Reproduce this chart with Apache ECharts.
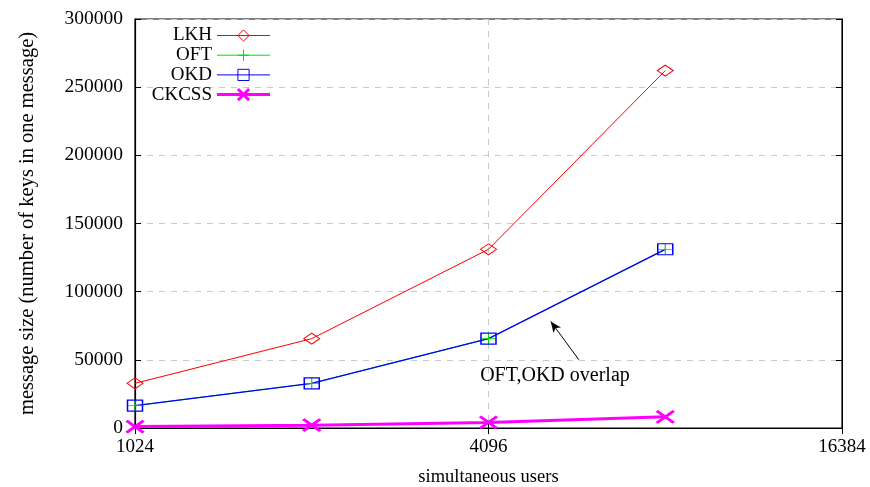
<!DOCTYPE html>
<html><head><meta charset="utf-8">
<script src="https://cdn.jsdelivr.net/npm/echarts@6/dist/echarts.min.js"></script>
<style>html,body{margin:0;padding:0;background:#fff}#c{width:870px;height:487px}</style>
</head><body><div id="c"></div>
<script>
const users = [1024, 2048, 4096, 8192];
const lkh = [32768, 65536, 131072, 262144];
const oft = [16384, 32768, 65536, 131072];
const okd = [16384, 32768, 65536, 131072];
const ckcss = [1024, 2048, 4096, 8192];
const yTicks = [0, 50000, 100000, 150000, 200000, 250000, 300000];
const xTicks = [1024, 4096, 16384];
const annotationText = 'OFT,OKD overlap';
const arrowFrom = [5839, 50000];
const arrowTo = [5228, 78160];
const textAt = [5316, 38235];

const F = '"Liberation Serif", "DejaVu Serif", serif';
const pair = a => users.map((u, i) => [u, a[i]]);
const plusPath = 'path://M0,5L10,5M5,0L5,10';
const crossPath = 'path://M0,0L10,10M10,0L0,10';
const clear = 'rgba(255,255,255,0)';

const chart = echarts.init(document.getElementById('c'));
chart.setOption({
  animation: false,
  backgroundColor: '#fff',
  grid: { left: 135, right: 28, top: 19, bottom: 59, show: true, borderColor: '#000', borderWidth: 1.2,
          outerBoundsMode: 'none', containLabel: false },
  legend: {
    orient: 'vertical', left: 145, top: 21, align: 'right', itemGap: 0.7,
    itemWidth: 53, itemHeight: 14,
    textStyle: { fontFamily: F, fontSize: 19, color: '#000', width: 62, align: 'right', lineHeight: 18 },
    data: [
      { name: 'LKH', itemStyle: { color: clear, borderColor: '#ff0000', borderWidth: 1 }, lineStyle: { width: 1, color: '#ff0000' } },
      { name: 'OFT', itemStyle: { color: clear, borderColor: '#00dd00', borderWidth: 1 }, lineStyle: { width: 1, color: '#00dd00' } },
      { name: 'OKD', itemStyle: { color: clear, borderColor: '#0000ff', borderWidth: 1 }, lineStyle: { width: 1, color: '#0000ff' } },
      { name: 'CKCSS', itemStyle: { color: clear, borderColor: '#ff00ff', borderWidth: 3 }, lineStyle: { width: 3, color: '#ff00ff' } }
    ]
  },
  xAxis: [{
    type: 'log', logBase: 4, min: 1024, max: 16384,
    name: 'simultaneous users', nameLocation: 'middle', nameGap: 40,
    nameTextStyle: { fontFamily: F, fontSize: 18.5, color: '#000' },
    axisLine: { lineStyle: { color: '#000', width: 1.2 } },
    axisTick: { inside: true, length: 6, lineStyle: { color: '#000' } },
    axisLabel: { fontFamily: F, fontSize: 19, color: '#000', margin: 10,
      formatter: v => xTicks.includes(Math.round(v)) ? String(Math.round(v)) : '' },
    splitLine: { show: true, lineStyle: { color: '#c8c8c8', type: [6, 6], width: 1 } },
    minorTick: { show: false }
  }, {
    type: 'log', logBase: 4, min: 1024, max: 16384, position: 'top',
    axisLine: { lineStyle: { color: '#000' } },
    axisTick: { inside: true, length: 6, lineStyle: { color: '#000' } },
    axisLabel: { show: false }, splitLine: { show: false }
  }],
  yAxis: [{
    type: 'value', min: yTicks[0], max: yTicks[yTicks.length - 1], interval: 50000,
    name: 'message size (number of keys in one message)', nameLocation: 'middle', nameGap: 97,
    nameTextStyle: { fontFamily: F, fontSize: 20.5, color: '#000' },
    axisLine: { show: true, lineStyle: { color: '#000', width: 1.2 } },
    axisTick: { show: true, inside: true, length: 6, lineStyle: { color: '#000' } },
    axisLabel: { fontFamily: F, fontSize: 19.5, color: '#000', margin: 12, formatter: v => String(v) },
    splitLine: { show: true, lineStyle: { color: '#c8c8c8', type: [6, 6], width: 1 } }
  }, {
    type: 'value', min: 0, max: 300000, interval: 50000, position: 'right',
    axisLine: { show: true, lineStyle: { color: '#000' } },
    axisTick: { show: true, inside: true, length: 6, lineStyle: { color: '#000' } },
    axisLabel: { show: false }, splitLine: { show: false }
  }],
  series: [
    { name: 'LKH', type: 'line', data: pair(lkh), symbol: 'diamond', symbolSize: [16, 11],
      lineStyle: { color: '#ff0000', width: 1 },
      itemStyle: { color: clear, borderColor: '#ff0000', borderWidth: 1 } },
    { name: 'OFT', type: 'line', data: pair(oft), symbol: plusPath, symbolSize: [15, 11],
      lineStyle: { color: '#00dd00', width: 1 },
      itemStyle: { color: clear, borderColor: '#00dd00', borderWidth: 1 } },
    { name: 'OKD', type: 'line', data: pair(okd), symbol: 'rect', symbolSize: [15, 11],
      lineStyle: { color: '#0000ff', width: 1.3 },
      itemStyle: { color: clear, borderColor: '#0000ff', borderWidth: 1.3 },
      markLine: {
        silent: true, symbol: ['none', 'arrow'], symbolSize: [7, 11],
        lineStyle: { color: '#000', width: 1, type: 'solid' }, label: { show: false },
        data: [[{ coord: arrowFrom }, { coord: arrowTo }]]
      },
      markPoint: {
        silent: true, symbol: 'circle', symbolSize: 0,
        label: { show: true, formatter: annotationText, fontFamily: F, fontSize: 20, color: '#000' },
        data: [{ coord: textAt }]
      } },
    { name: 'CKCSS', type: 'line', data: pair(ckcss), symbol: crossPath, symbolSize: [17, 12],
      lineStyle: { color: '#ff00ff', width: 3 },
      itemStyle: { color: clear, borderColor: '#ff00ff', borderWidth: 3 } }
  ]
});
</script></body></html>
